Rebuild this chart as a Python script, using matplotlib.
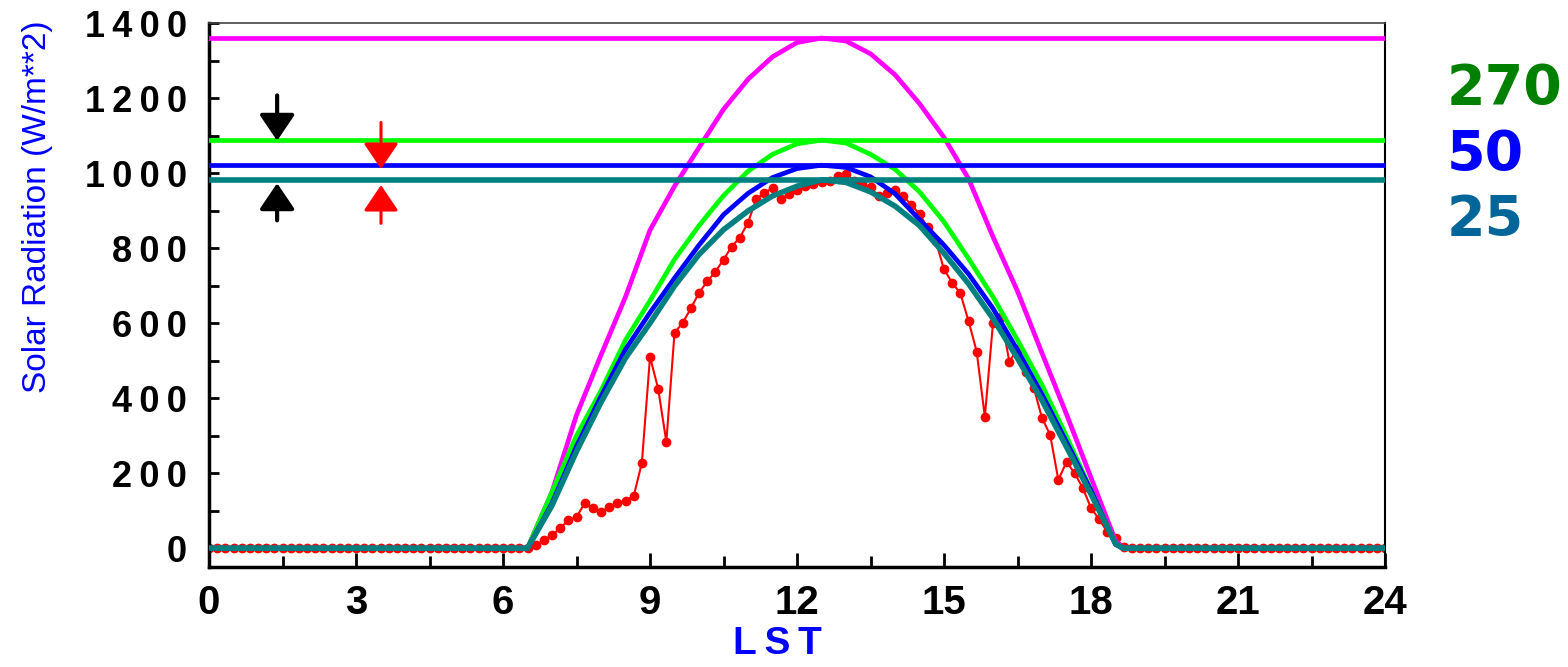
import matplotlib
matplotlib.use("Agg")
import matplotlib.pyplot as plt
import numpy as np

# model clear-sky curves (W/m**2), half-hourly through daylight
model_hours = [0, 6.5, 7.0, 7.5, 8.0, 8.5, 9.0, 9.5, 10.0, 10.5, 11.0, 11.5, 12.0,
               12.5, 13.0, 13.5, 14.0, 14.5, 15.0, 15.5, 16.0, 16.5, 17.0, 17.5,
               18.0, 18.5, 18.65, 24]
toa = [0, 0, 150, 355, 515, 670, 848, 965, 1068, 1170, 1250, 1310, 1348,
       1360, 1352, 1318, 1262, 1185, 1095, 985, 830, 685, 520, 357, 188, 20, 0, 0]
vis270 = [0, 0, 150, 300, 420, 555, 660, 770, 860, 940, 1005, 1050, 1078,
          1088, 1080, 1050, 1010, 950, 870, 772, 670, 555, 435, 298, 155, 12, 0, 0]
vis50 = [0, 0, 120, 272, 405, 530, 628, 720, 808, 889, 946, 988, 1012,
         1021, 1015, 990, 945, 876, 808, 731, 639, 528, 410, 283, 154, 10, 0, 0]
vis25 = [0, 0, 114, 258, 389, 507, 600, 699, 783, 849, 899, 939, 965,
         982, 975, 950, 912, 860, 786, 705, 612, 506, 394, 270, 144, 12, 0, 0]

# observed 10-min radiation, 06:40 - 18:40 (zero outside)
obs_day = [8, 21,
           35, 53, 75, 83, 120, 107,
           96, 110, 120, 126, 139, 227,
           510, 425, 283, 574, 601, 639,
           681, 711, 737, 769, 804, 828,
           868, 930, 948, 959, 932, 943,
           956, 965, 972, 975, 978, 991,
           997, 978, 970, 962, 938, 948,
           954, 938, 916, 890, 855, 818,
           743, 708, 679, 606, 524, 350,
           601, 617, 497, 532, 470, 427,
           347, 302, 182, 230, 200, 160,
           107, 77, 43, 27, 3]
obs = [0] * 40 + obs_day + [0] * 32
obs_hours = np.arange(len(obs)) / 6.0

vis_labels = ["270", "50", "25"]
vis_label_colors = ["#008000", "#0000ff", "#006699"]

fig = plt.figure(figsize=(15.68, 6.67), dpi=100)
ax = fig.add_axes([0.1333, 0.15, 0.75, 0.8155])

ax.plot(obs_hours, obs, color="red", lw=1.5, marker="o", ms=6, zorder=2)

curves = [(toa, "#ff00ff", 3.4), (vis270, "#00ff00", 3.4), (vis50, "#0000ff", 3.4), (vis25, "#008080", 4.0)]
for vals, c, lw in curves:
    ax.axhline(max(vals), color=c, lw=lw, zorder=3)
    ax.plot(model_hours, vals, color=c, lw=lw, zorder=3)

# arrows marking the spread between the peak levels
arr = dict(arrowstyle="-|>,head_length=0.4,head_width=0.27", mutation_scale=40,
           shrinkA=0, shrinkB=0)
ax.annotate("", xy=(1.39, 1086), xytext=(1.39, 1207),
            arrowprops=dict(arr, color="black", lw=3))
ax.annotate("", xy=(1.39, 973), xytext=(1.39, 874),
            arrowprops=dict(arr, color="black", lw=3))
ax.annotate("", xy=(3.51, 1011), xytext=(3.51, 1135),
            arrowprops=dict(arr, color="red", lw=2.2))
ax.annotate("", xy=(3.51, 968), xytext=(3.51, 866),
            arrowprops=dict(arr, color="red", lw=2.2))

ax.set_xlim(0, 24)
ax.set_ylim(-50, 1400)

sp = "\u2009"
ax.set_xticks(np.arange(0, 25, 3))
ax.set_xticks(np.arange(1.5, 24, 3), minor=True)
ax.set_xticklabels([str(v) for v in range(0, 25, 3)])
ax.set_yticks(np.arange(0, 1401, 200))
ax.set_yticks(np.arange(100, 1400, 200), minor=True)
ax.set_yticklabels([sp.join(str(v)) for v in range(0, 1401, 200)])

ax.tick_params(axis="x", which="major", direction="in", length=10, width=2, pad=12)
ax.tick_params(axis="x", which="minor", direction="in", length=8, width=2)
ax.tick_params(axis="y", which="both", direction="in", length=7, width=2, pad=16)
for lab in ax.get_xticklabels():
    lab.set_fontfamily(["Liberation Sans", "DejaVu Sans"])
    lab.set_fontweight("bold")
    lab.set_fontsize(29)
for lab in ax.get_yticklabels():
    lab.set_fontfamily(["Liberation Sans", "DejaVu Sans"])
    lab.set_fontweight("bold")
    lab.set_fontsize(26)

ax.spines["left"].set_linewidth(2.5)
ax.spines["bottom"].set_linewidth(2.5)
ax.spines["top"].set_linewidth(1.2)
ax.spines["top"].set_color("#444444")
ax.spines["right"].set_linewidth(1.5)

fig.text(0.0236, 0.6897, "Solar Radiation (W/m**2)", rotation=90, ha="center", va="center",
         color="#0000ff", fontsize=24, family=["Liberation Sans", "DejaVu Sans"])
fig.text(0.496, 0.035, sp.join("LST"), ha="center", va="center", color="#0000ff",
         fontsize=28, fontweight="bold", family=["Liberation Sans", "DejaVu Sans"])

for lbl, c, y in zip(vis_labels, vis_label_colors, [0.8666, 0.7676, 0.670]):
    fig.text(0.9228, y, lbl, ha="left", va="center", color=c, fontsize=40, fontweight="bold")

fig.savefig("out.png", dpi=100)
